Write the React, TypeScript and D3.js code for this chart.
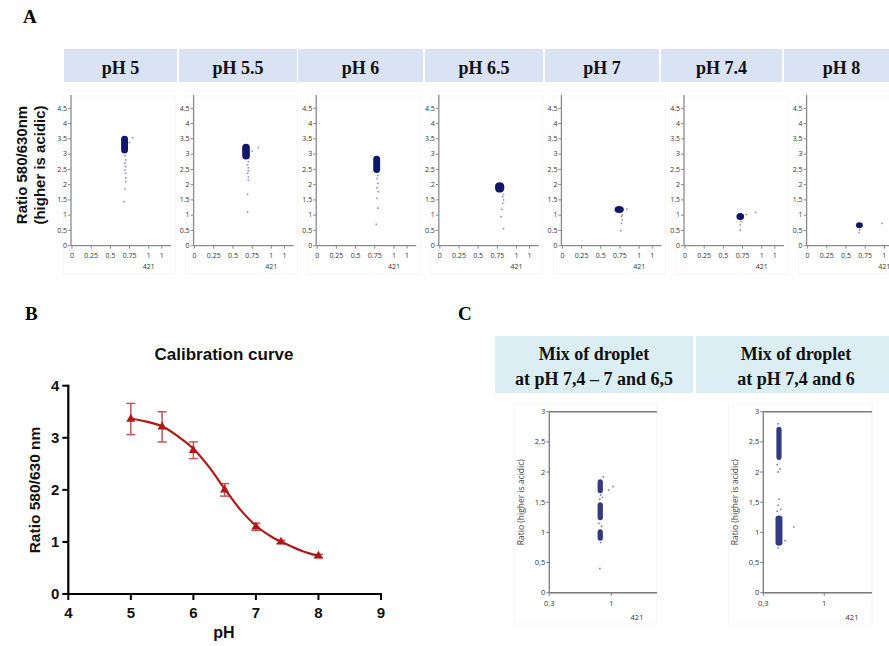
import * as d3 from 'd3';

// ---------- Panel A: ratio vs 421 per calibration droplet ----------
const phLabels = ['pH 5', 'pH 5.5', 'pH 6', 'pH 6.5', 'pH 7', 'pH 7.4', 'pH 8'];
// dense core of each population (421 range, ratio range)
const coreX0 = [0.64, 0.62, 0.73, 0.72, 0.68, 0.67, 0.63];
const coreX1 = [0.73, 0.72, 0.82, 0.84, 0.8, 0.77, 0.72];
const coreTop = [3.6, 3.34, 2.95, 2.08, 1.3, 1.07, 0.77];
const coreBottom = [3.02, 2.82, 2.38, 1.74, 1.07, 0.84, 0.57];
// sparse droplets outside the core
const tailPoints: [number, number][][] = [
  [[0.69, 2.95], [0.7, 2.81], [0.69, 2.7], [0.7, 2.59], [0.69, 2.48], [0.7, 2.37], [0.7, 2.22], [0.7, 2.1], [0.69, 1.86], [0.68, 1.44], [0.79, 3.54], [0.75, 3.38]],
  [[0.7, 2.75], [0.69, 2.65], [0.7, 2.55], [0.7, 2.45], [0.69, 2.37], [0.7, 2.25], [0.7, 2.15], [0.69, 1.68], [0.69, 1.11], [0.83, 3.21], [0.75, 3.1]],
  [[0.79, 2.3], [0.78, 2.2], [0.79, 2.04], [0.78, 1.9], [0.79, 1.77], [0.78, 1.55], [0.79, 1.23], [0.77, 0.7]],
  [[0.83, 1.68], [0.82, 1.6], [0.83, 1.5], [0.82, 1.39], [0.81, 1.19], [0.8, 0.95], [0.83, 0.56]],
  [[0.78, 1.0], [0.77, 0.95], [0.78, 0.85], [0.77, 0.73], [0.76, 0.49], [0.84, 1.2]],
  [[0.73, 0.8], [0.72, 0.68], [0.72, 0.51], [0.92, 1.09], [0.8, 1.02]],
  [[0.68, 0.52], [0.67, 0.43], [0.97, 0.73]],
];
const aTickY = [0, 0.5, 1, 1.5, 2, 2.5, 3, 3.5, 4, 4.5];
const aTickX = [0, 0.25, 0.5, 0.75, 1, 1.17];
const aTickXLabels = ['0', '0.25', '0.5', '0.75', '1', '1'];

// ---------- Panel B: calibration curve ----------
const calPh = [5, 5.5, 6, 6.5, 7, 7.4, 8];
const calMean = [3.36, 3.21, 2.76, 2.0, 1.29, 1.0, 0.73];
const calSd = [0.3, 0.29, 0.16, 0.12, 0.07, 0.03, 0.03];
const fitPh = [5, 5.25, 5.5, 5.75, 6, 6.25, 6.5, 6.75, 7, 7.25, 7.5, 7.75, 8];
const fitRatio = [3.37, 3.31, 3.22, 3.03, 2.79, 2.44, 2.02, 1.62, 1.31, 1.1, 0.95, 0.82, 0.73];
const bTickX = [4, 5, 6, 7, 8, 9];
const bTickY = [0, 1, 2, 3, 4];

// ---------- Panel C: droplet mixes ----------
const mixTitles = [
  ['Mix of droplet', 'at pH 7,4 \u2013 7 and 6,5'],
  ['Mix of droplet', 'at pH 7,4 and 6'],
];
// bands: [x0, x1, yTop, yBottom]
const mixBands: [number, number, number, number][][] = [
  [[0.845, 0.905, 1.88, 1.65], [0.845, 0.905, 1.5, 1.2], [0.845, 0.905, 1.05, 0.86]],
  [[0.45, 0.51, 2.75, 2.2], [0.44, 0.52, 1.28, 0.78]],
];
const mixPoints: [number, number][][] = [
  [[0.88, 1.62], [0.9, 1.58], [0.87, 1.55], [0.97, 1.7], [1.02, 1.76], [0.86, 1.15], [0.89, 1.1], [0.88, 0.83], [0.87, 0.4], [0.91, 1.92]],
  [[0.47, 2.8], [0.46, 2.12], [0.49, 2.05], [0.47, 2.0], [0.48, 1.55], [0.47, 1.45], [0.5, 1.38], [0.46, 1.35], [0.65, 1.09], [0.55, 0.86], [0.47, 0.74]],
];
const cTickY = [0, 0.5, 1, 1.5, 2, 2.5, 3];
const cTickX = [0.3, 1];

const NAVY = '#0f176a';
const serif = '"Liberation Serif", "Times New Roman", serif';
const sans = '"Liberation Sans", Arial, sans-serif';
const small = '"Open Sans", "DejaVu Sans", sans-serif';

const headerX = [64, 179, 298, 425, 545, 661, 784];
const headerW = [113, 118, 125, 118, 114, 121, 115];

function ScatterA({ i }: { i: number }) {
  const ax = 71 + i * 122.6;
  const x = d3.scaleLinear().domain([0, 1.29]).range([ax + 1, ax + 100]);
  const y = d3.scaleLinear().domain([0, 4.5]).range([245.7, 108.3]);
  const x0 = x(coreX0[i]);
  const x1 = x(coreX1[i]);
  const w = x1 - x0;
  return (
    <g>
      <rect x={ax - 8} y={96} width={112} height={178} fill="none" stroke="#f5f5f5" />
      <line x1={ax} x2={ax} y1={95} y2={y(0)} stroke="#8a8a8a" strokeWidth={1.3} />
      <line x1={ax} x2={x(1.29)} y1={y(0)} y2={y(0)} stroke="#8a8a8a" strokeWidth={1.3} />
      {aTickY.map((t) => (
        <g key={t}>
          <line x1={ax - 3} x2={ax} y1={y(t)} y2={y(t)} stroke="#8a8a8a" />
          <text x={ax - 4} y={y(t)} dy="0.33em" textAnchor="end" fontSize={7} fill="#333" fontFamily={small}>{t}</text>
        </g>
      ))}
      {aTickX.filter((t) => x(t) < 887).map((t, k) => (
        <g key={k}>
          <line x1={x(t)} x2={x(t)} y1={y(0)} y2={y(0) + 3} stroke="#8a8a8a" />
          <text x={x(t)} y={258} textAnchor="middle" fontSize={7} fill="#333" fontFamily={small}>{aTickXLabels[k]}</text>
        </g>
      ))}
      <text x={x(1.0)} y={269} textAnchor="middle" fontSize={7} fill="#333" fontFamily={small}>421</text>
      {tailPoints[i].map((p, k) => (
        <rect key={k} x={x(p[0]) - 0.8} y={y(p[1]) - 0.8} width={1.6} height={1.6} fill="#6a6fb0" opacity={0.75} />
      ))}
      <rect x={x0} y={y(coreTop[i])} width={w} height={y(coreBottom[i]) - y(coreTop[i])} rx={w / 2} ry={Math.min(w / 2, 4)} fill={NAVY} />
    </g>
  );
}

function Calibration() {
  const x = d3.scaleLinear().domain([4, 9]).range([68.3, 381]);
  const y = d3.scaleLinear().domain([0, 4]).range([594, 385.7]);
  const line = d3
    .line<number>()
    .x((d) => x(d))
    .y((_, k) => y(fitRatio[k]))
    .curve(d3.curveMonotoneX);
  const tri = d3.symbol(d3.symbolTriangle, 36)();
  return (
    <g>
      <text x={224} y={360} textAnchor="middle" fontSize={17} fontWeight="bold" fontFamily={sans} fill="#111">Calibration curve</text>
      <line x1={x(4)} x2={x(4)} y1={y(0) + 1} y2={y(4) - 1} stroke="#000" strokeWidth={2.2} />
      <line x1={x(4) - 1} x2={x(9) + 1} y1={y(0)} y2={y(0)} stroke="#000" strokeWidth={2.2} />
      {bTickY.map((t) => (
        <g key={t}>
          <line x1={x(4) - 6} x2={x(4)} y1={y(t)} y2={y(t)} stroke="#000" strokeWidth={2} />
          <text x={x(4) - 9} y={y(t)} dy="0.36em" textAnchor="end" fontSize={15} fontWeight="bold" fontFamily={sans} fill="#111">{t}</text>
        </g>
      ))}
      {bTickX.map((t) => (
        <g key={t}>
          <line x1={x(t)} x2={x(t)} y1={y(0)} y2={y(0) + 6} stroke="#000" strokeWidth={2} />
          <text x={x(t)} y={618} textAnchor="middle" fontSize={15} fontWeight="bold" fontFamily={sans} fill="#111">{t}</text>
        </g>
      ))}
      <text x={224} y={638} textAnchor="middle" fontSize={16} fontWeight="bold" fontFamily={sans} fill="#111">pH</text>
      <text transform="translate(40,490) rotate(-90)" textAnchor="middle" fontSize={15.5} fontWeight="bold" fontFamily={sans} fill="#111">Ratio 580/630 nm</text>
      {calPh.map((p, k) => (
        <g key={p} stroke="#c65555" strokeWidth={1.5}>
          <line x1={x(p)} x2={x(p)} y1={y(calMean[k] + calSd[k])} y2={y(calMean[k] - calSd[k])} />
          <line x1={x(p) - 4.5} x2={x(p) + 4.5} y1={y(calMean[k] + calSd[k])} y2={y(calMean[k] + calSd[k])} />
          <line x1={x(p) - 4.5} x2={x(p) + 4.5} y1={y(calMean[k] - calSd[k])} y2={y(calMean[k] - calSd[k])} />
        </g>
      ))}
      <path d={line(fitPh) ?? ''} fill="none" stroke="#b01818" strokeWidth={2.2} />
      {calPh.map((p, k) => (
        <path key={p} d={tri ?? ''} transform={`translate(${x(p)},${y(calMean[k])})`} fill="#b01818" />
      ))}
    </g>
  );
}

function MixPanel({ i }: { i: number }) {
  const ax = i === 0 ? 549.3 : 763.3;
  const unit = i === 0 ? 88.6 : 87.1;
  const right = i === 0 ? 657 : 872;
  const x = d3.scaleLinear().domain([0.3, 1]).range([ax, ax + 0.7 * unit]);
  const y = d3.scaleLinear().domain([0, 3]).range([592.7, 411.7]);
  const boxX = i === 0 ? 495 : 696;
  const boxW = i === 0 ? 198 : 200;
  const cx = boxX + boxW / 2;
  return (
    <g>
      <rect x={boxX} y={336} width={boxW} height={57} fill="#daeef3" />
      <text x={cx} y={360} textAnchor="middle" fontSize={18} fontWeight="bold" fontFamily={serif} fill="#111">{mixTitles[i][0]}</text>
      <text x={cx} y={385} textAnchor="middle" fontSize={18} fontWeight="bold" fontFamily={serif} fill="#111">{mixTitles[i][1]}</text>
      <rect x={ax - 35} y={404} width={right - ax + 35} height={220} fill="none" stroke="#f5f5f5" />
      <line x1={ax} x2={ax} y1={y(3)} y2={y(0)} stroke="#7a7a7a" strokeWidth={1.3} />
      <line x1={ax} x2={right} y1={y(3)} y2={y(3)} stroke="#7a7a7a" strokeWidth={1.5} />
      <line x1={ax} x2={right} y1={y(0)} y2={y(0)} stroke="#7a7a7a" strokeWidth={1.5} />
      {cTickY.map((t) => (
        <g key={t}>
          <line x1={ax - 3} x2={ax} y1={y(t)} y2={y(t)} stroke="#7a7a7a" />
          <text x={ax - 4} y={y(t)} dy="0.33em" textAnchor="end" fontSize={7.5} fill="#333" fontFamily={small}>{String(t).replace('.', ',')}</text>
        </g>
      ))}
      {cTickX.map((t) => (
        <g key={t}>
          <line x1={x(t)} x2={x(t)} y1={y(0)} y2={y(0) + 3} stroke="#7a7a7a" />
          <text x={x(t)} y={606} textAnchor="middle" fontSize={7.5} fill="#333" fontFamily={small}>{String(t).replace('.', ',')}</text>
        </g>
      ))}
      <text x={right - 20} y={620} textAnchor="middle" fontSize={7.5} fill="#333" fontFamily={small}>421</text>
      <text transform={`translate(${ax - 25},${y(1.5)}) rotate(-90)`} textAnchor="middle" fontSize={8.5} fill="#444" fontFamily={small}>Ratio (higher is acidic)</text>
      {mixBands[i].map((b, k) => {
        const w = x(b[1]) - x(b[0]);
        return (
          <rect key={k} x={x(b[0])} y={y(b[2])} width={w} height={y(b[3]) - y(b[2])} rx={w / 2} ry={3} fill={NAVY} opacity={0.85} />
        );
      })}
      {mixPoints[i].map((p, k) => (
        <rect key={k} x={x(p[0]) - 0.8} y={y(p[1]) - 0.8} width={1.6} height={1.6} fill="#5a60aa" opacity={0.8} />
      ))}
    </g>
  );
}

export default function App() {
  return (
    <svg width={889} height={646} style={{ position: 'absolute', left: 0, top: 0, background: '#fff' }}>
      <text x={23} y={23} fontSize={19} fontWeight="bold" fontFamily={serif}>A</text>
      <text x={25} y={320} fontSize={19} fontWeight="bold" fontFamily={serif}>B</text>
      <text x={458} y={320} fontSize={19} fontWeight="bold" fontFamily={serif}>C</text>

      {phLabels.map((l, i) => (
        <g key={l}>
          <rect x={headerX[i]} y={49} width={headerW[i]} height={33} fill="#dae3f3" />
          <text x={headerX[i] + headerW[i] / 2} y={74} textAnchor="middle" fontSize={18} fontWeight="bold" fontFamily={serif} fill="#111">{l}</text>
        </g>
      ))}
      <text transform="translate(27,165) rotate(-90)" textAnchor="middle" fontSize={15} fontWeight="bold" fontFamily={sans} fill="#111">Ratio 580/630nm</text>
      <text transform="translate(45,165) rotate(-90)" textAnchor="middle" fontSize={15} fontWeight="bold" fontFamily={sans} fill="#111">(higher is acidic)</text>
      {phLabels.map((l, i) => (
        <ScatterA key={l} i={i} />
      ))}

      <Calibration />
      <MixPanel i={0} />
      <MixPanel i={1} />
    </svg>
  );
}
